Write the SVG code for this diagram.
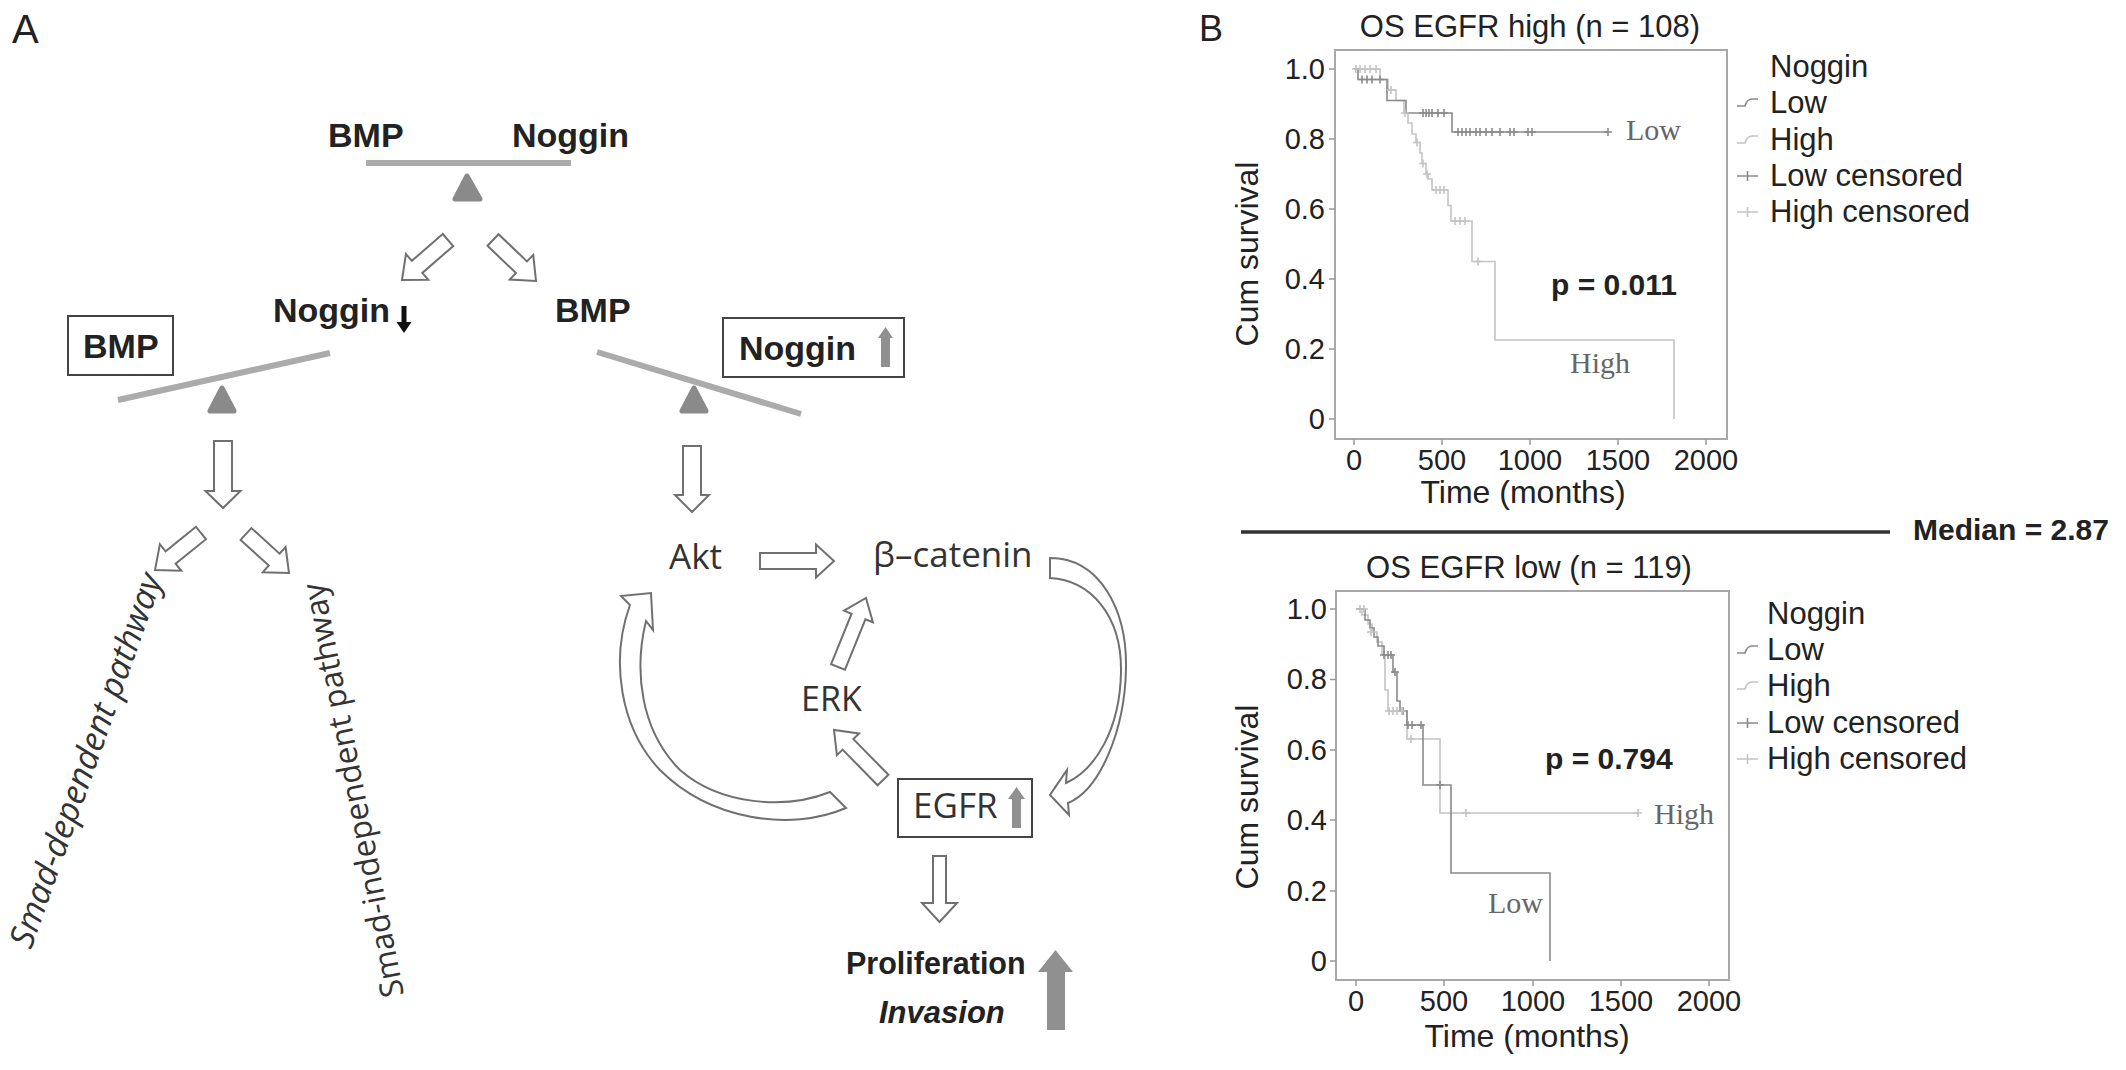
<svg xmlns="http://www.w3.org/2000/svg" width="2126" height="1070" viewBox="0 0 2126 1070">
<style>
.bd{font-family:"Liberation Sans",Arial,sans-serif;font-weight:bold;fill:#222}
.os{font-family:"Open Sans",sans-serif;fill:#333}
.ax{font-family:"Liberation Sans",Arial,sans-serif;fill:#222}
.blk{fill:#fff;stroke:#707070;stroke-width:2;stroke-linejoin:miter}
.beam{stroke:#ababab;stroke-width:6}
.fulc{fill:#8a8a8a;stroke:#8a8a8a;stroke-width:5;stroke-linejoin:round}
.box{fill:none;stroke:#444;stroke-width:2}
.frame{fill:none;stroke:#a8a8a8;stroke-width:2}
.tick{stroke:#999;stroke-width:1.5}
.lo{fill:none;stroke:#8a8a8a;stroke-width:1.6}
.hi{fill:none;stroke:#c4c4c4;stroke-width:1.6}
.sf{font-family:"Liberation Serif","Times New Roman",serif;fill:#666;font-size:30px}
.gar{fill:#909090}
</style>

<!-- Panel labels -->
<text class="ax" x="12" y="43" font-size="40" fill="#222">A</text>
<text class="ax" x="1199" y="41" font-size="36">B</text>

<!-- Panel A nodes -->
<g id="balance-top">
  <text class="bd" x="328" y="147" font-size="34">BMP</text>
  <text class="bd" x="512" y="147" font-size="34">Noggin</text>
  <line class="beam" x1="366" y1="163" x2="571" y2="163"/>
  <polygon class="fulc" points="467,176 455,199 480,199"/>
</g>
<g id="noggin-down">
  <text class="bd" x="273" y="322" font-size="34">Noggin</text>
  <path d="M401.5 306 h5 v16 h5 l-7.5 11 l-7.5 -11 h5 z" fill="#111"/>
</g>
<g id="bmp-mid">
  <text class="bd" x="555" y="322" font-size="34">BMP</text>
</g>
<g id="balance-left">
  <rect class="box" x="68" y="316" width="105" height="59"/>
  <text class="bd" x="83" y="358" font-size="34">BMP</text>
  <line class="beam" x1="118" y1="400" x2="330" y2="353"/>
  <polygon class="fulc" points="222,388 210,411 234,411"/>
</g>
<g id="balance-right">
  <rect class="box" x="723" y="318" width="181" height="59"/>
  <text class="bd" x="739" y="360" font-size="34">Noggin</text>
  <path class="gar" d="M881 367 V338 H878 L885.5 327 L893 338 H890 V367 Z"/>
  <line class="beam" x1="597" y1="352" x2="801" y2="414"/>
  <polygon class="fulc" points="694,388 682,411 706,411"/>
</g>
<g id="smad-dep">
  <text class="os" font-size="34" font-style="italic" transform="translate(31,950) rotate(-70.5)">Smad-dependent pathway</text>
</g>
<g id="smad-indep">
  <text class="os" font-size="32" transform="translate(404,995) rotate(-101)">Smad-independent pathway</text>
</g>
<g id="akt"><text class="os" x="669" y="569" font-size="35">Akt</text></g>
<g id="bcatenin"><text class="os" x="873" y="567" font-size="35">β–catenin</text></g>
<g id="erk"><text class="os" x="801" y="711" font-size="34">ERK</text></g>
<g id="egfr">
  <rect class="box" x="898" y="779" width="134" height="58"/>
  <text class="os" x="913" y="818" font-size="35">EGFR</text>
  <path class="gar" d="M1012 828 V799 H1008 L1016.5 787 L1025 799 H1021 V828 Z"/>
</g>
<g id="outcome">
  <text class="bd" x="846" y="974" font-size="30.5">Proliferation</text>
  <text class="bd" x="879" y="1023" font-size="31" font-style="italic">Invasion</text>
  <path class="gar" d="M1047 1030 V972 H1038 L1055.5 950 L1073 972 H1065 V1030 Z"/>
</g>

<!-- Panel A connectors -->
<g id="connectors">
  <polygon class="blk" points="442.75,233.97 411.85,260.87 405.95,254.08 402,280 428.25,279.72 422.35,272.93 453.25,246.03"/>
  <polygon class="blk" points="487.48,245.79 516,272.99 509.79,279.51 536,281 533.25,254.89 527.04,261.41 498.52,234.21"/>
  <polygon class="blk" points="214,441 214,491 205.5,491 223,508 240.5,491 232,491 232,441"/>
  <polygon class="blk" points="196,526.8 165.6,551.3 159.9,544.2 155,570 181.3,570.8 175.6,563.7 206,539.2"/>
  <polygon class="blk" points="240.6,539.9 268.8,565.5 262.8,572.2 289,573 285.6,547 279.6,553.7 251.4,528.1"/>
  <polygon class="blk" points="683,446 683,495 675,495 692,512 709,495 701,495 701,446"/>
  <polygon class="blk" points="760,553 816,553 816,544.5 834,561 816,577.5 816,569 760,569"/>
  <polygon class="blk" points="844.9,669.8 865.4,619.3 872.9,622.3 866,598 844.1,610.7 851.6,613.7 831.1,664.2"/>
  <polygon class="blk" points="888.4,774.8 853.4,739.1 859.1,733.5 834,730 836.9,755.2 842.6,749.6 877.6,785.3"/>
  <polygon class="blk" points="933,856 933,903 922,903 939.5,922 957,903 946,903 946,856"/>
  <path class="blk" d="M1050 558 C1100 558 1127 610 1126 668 C1125 730 1100 790 1068 803 L1069 815 L1050 795 L1067 770 L1066 783 C1095 770 1120 730 1121 672 C1122 615 1090 580 1050 578 Z"/>
  <path class="blk" d="M651 593 L653 630 L646 621 C634 670 640 730 680 770 C720 805 785 810 830 792 L846 808 C790 832 710 820 660 770 C620 728 610 660 630 605 L621 596 Z"/>
</g>

<!-- Panel B top plot -->
<g id="plot-high">
  <text class="ax" x="1530" y="37" font-size="31" text-anchor="middle">OS EGFR high (n = 108)</text>
  <rect class="frame" x="1335" y="50" width="392" height="389"/>
  <path class="tick" d="M1329 69H1335M1329 139H1335M1329 209H1335M1329 279H1335M1329 349H1335M1329 419H1335M1354 439V445M1442 439V445M1530 439V445M1618 439V445M1706 439V445"/>
  <g class="ax" font-size="29" text-anchor="end">
    <text x="1325" y="79">1.0</text><text x="1325" y="149">0.8</text><text x="1325" y="219">0.6</text>
    <text x="1325" y="289">0.4</text><text x="1325" y="359">0.2</text><text x="1325" y="429">0</text>
  </g>
  <g class="ax" font-size="29" text-anchor="middle">
    <text x="1354" y="470">0</text><text x="1442" y="470">500</text><text x="1530" y="470">1000</text>
    <text x="1618" y="470">1500</text><text x="1706" y="470">2000</text>
  </g>
  <text class="ax" x="1523" y="503" font-size="32" text-anchor="middle">Time (months)</text>
  <text class="ax" font-size="32" text-anchor="middle" transform="translate(1258,254) rotate(-90)">Cum survival</text>
  <path class="hi" d="M1354 69H1380V79.5H1388V90H1396V100.5H1404V113H1408V123H1412V134H1416V142.5H1420V153H1422V163.5H1426V174H1428V179H1432V190H1448V205.5H1451V221H1472V261.5H1495V340H1674V419"/>
  <path class="lo" d="M1354 69H1358V79.5H1387V100.5H1406V113H1452V132H1608"/>
  <path class="lo" d="M1362 75.5v8M1358 79.5h8M1367 75.5v8M1363 79.5h8M1372 75.5v8M1368 79.5h8M1380 75.5v8M1376 79.5h8M1423 109v8M1419 113h8M1426 109v8M1422 113h8M1429 109v8M1425 113h8M1432 109v8M1428 113h8M1438 109v8M1434 113h8M1444 109v8M1440 113h8M1458 128v8M1454 132h8M1462 128v8M1458 132h8M1466 128v8M1462 132h8M1470 128v8M1466 132h8M1476 128v8M1472 132h8M1480 128v8M1476 132h8M1486 128v8M1482 132h8M1492 128v8M1488 132h8M1500 128v8M1496 132h8M1510 128v8M1506 132h8M1514 128v8M1510 132h8M1528 128v8M1524 132h8M1532 128v8M1528 132h8M1608 128v8M1604 132h8"/>
  <path class="hi" d="M1356 65v8M1352 69h8M1360 65v8M1356 69h8M1365 65v8M1361 69h8M1370 65v8M1366 69h8M1376 65v8M1372 69h8M1391 86v8M1387 90h8M1405 109v8M1401 113h8M1417 138.5v8M1413 142.5h8M1423 159.5v8M1419 163.5h8M1427 170v8M1423 174h8M1436 186v8M1432 190h8M1440 186v8M1436 190h8M1444 186v8M1440 190h8M1455 217v8M1451 221h8M1460 217v8M1456 221h8M1465 217v8M1461 221h8M1478 257.5v8M1474 261.5h8"/>
  <text class="sf" x="1626" y="140">Low</text>
  <text class="sf" x="1570" y="373">High</text>
  <text class="bd" x="1551" y="295" font-size="30">p = 0.011</text>
  <g class="ax" font-size="31">
    <text x="1770" y="77">Noggin</text><text x="1770" y="113">Low</text><text x="1770" y="150">High</text>
    <text x="1770" y="186">Low censored</text><text x="1770" y="222">High censored</text>
  </g>
  <path class="lo" d="M1737 106H1745Q1747 99 1752 99H1758"/>
  <path class="hi" d="M1737 143H1745Q1747 136 1752 136H1758"/>
  <path class="lo" d="M1737 176H1758M1747.5 171V181"/>
  <path class="hi" d="M1737 212H1758M1747.5 207V217"/>
</g>

<!-- divider -->
<g id="median">
  <line x1="1241" y1="532" x2="1890" y2="532" stroke="#333" stroke-width="3.5"/>
  <text class="bd" x="1913" y="540" font-size="30">Median = 2.87</text>
</g>

<!-- Panel B bottom plot -->
<g id="plot-low">
  <text class="ax" x="1529" y="578" font-size="31" text-anchor="middle">OS EGFR low (n = 119)</text>
  <rect class="frame" x="1336" y="591" width="393" height="389"/>
  <path class="tick" d="M1330 609H1336M1330 679.4H1336M1330 750H1336M1330 820H1336M1330 891H1336M1330 961H1336M1356 980V986M1444 980V986M1533 980V986M1621 980V986M1709 980V986"/>
  <g class="ax" font-size="29" text-anchor="end">
    <text x="1327" y="619">1.0</text><text x="1327" y="689">0.8</text><text x="1327" y="760">0.6</text>
    <text x="1327" y="830">0.4</text><text x="1327" y="901">0.2</text><text x="1327" y="971">0</text>
  </g>
  <g class="ax" font-size="29" text-anchor="middle">
    <text x="1356" y="1011">0</text><text x="1444" y="1011">500</text><text x="1533" y="1011">1000</text>
    <text x="1621" y="1011">1500</text><text x="1709" y="1011">2000</text>
  </g>
  <text class="ax" x="1527" y="1047" font-size="32" text-anchor="middle">Time (months)</text>
  <text class="ax" font-size="32" text-anchor="middle" transform="translate(1258,797) rotate(-90)">Cum survival</text>
  <path class="hi" d="M1356 609H1362V615H1368V624H1372V632H1377V642H1382V655H1385V690H1388V711H1407V739H1440V813H1638"/>
  <path class="lo" d="M1356 609H1365V620H1370V628H1374V637H1378V646H1384V655H1393V672H1397V701H1400V711H1407V725H1423V785H1451V873H1550V961"/>
  <path class="lo" d="M1384 651v8M1380 655h8M1388 651v8M1384 655h8M1391 651v8M1387 655h8M1395 668v8M1391 672h8M1403 707v8M1399 711h8M1408 721v8M1404 725h8M1412 721v8M1408 725h8M1421 721v8M1417 725h8M1440 781v8M1436 785h8"/>
  <path class="hi" d="M1360 605v8M1356 609h8M1364 605v8M1360 609h8M1371 628v8M1367 632h8M1389 707v8M1385 711h8M1393 707v8M1389 711h8M1397 707v8M1393 711h8M1402 707v8M1398 711h8M1411 735v8M1407 739h8M1466 809v8M1462 813h8M1638 809v8M1634 813h8"/>
  <text class="sf" x="1654" y="824">High</text>
  <text class="sf" x="1488" y="913">Low</text>
  <text class="bd" x="1545" y="769" font-size="30">p = 0.794</text>
  <g class="ax" font-size="31">
    <text x="1767" y="624">Noggin</text><text x="1767" y="660">Low</text><text x="1767" y="696">High</text>
    <text x="1767" y="733">Low censored</text><text x="1767" y="769">High censored</text>
  </g>
  <path class="lo" d="M1737 653H1745Q1747 646 1752 646H1758"/>
  <path class="hi" d="M1737 689H1745Q1747 682 1752 682H1758"/>
  <path class="lo" d="M1737 723H1758M1747.5 718V728"/>
  <path class="hi" d="M1737 759H1758M1747.5 754V764"/>
</g>
</svg>
